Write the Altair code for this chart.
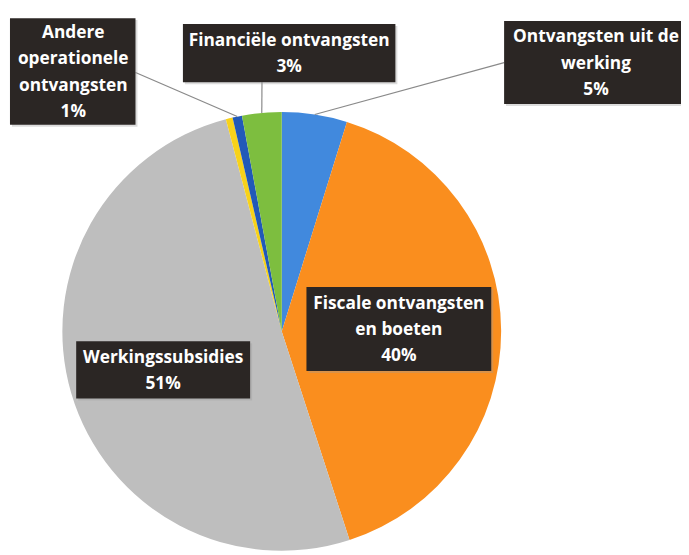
import altair as alt
import pandas as pd
import numpy as np

# ---- data ----
categories = [
    "Ontvangsten uit de werking",
    "Fiscale ontvangsten en boeten",
    "Werkingssubsidies",
    "Overige",
    "Andere operationele ontvangsten",
    "Financiële ontvangsten",
]
values = [4.8, 40.2, 50.9, 0.5, 0.7, 2.9]
pct_labels = ["5%", "40%", "51%", "", "1%", "3%"]
label_lines = [
    ["Ontvangsten uit de", "werking"],
    ["Fiscale ontvangsten", "en boeten"],
    ["Werkingssubsidies"],
    [],
    ["Andere", "operationele", "ontvangsten"],
    ["Financiële ontvangsten"],
]

# ---- styles / layout (kept apart from data) ----
colors = ["#4189DD", "#FA8E1E", "#BEBEBE", "#F7D21A", "#2159B8", "#7DBE3F"]
M = 8  # page margin
W, H = 681, 547
CX, CY, R = 285 - M, 332 - M, 222
# label boxes: (x0, y0, x1, y1, text_center_x, with_leader, anchor_x, anchor_y) in page px
boxes = {
    0: (510, 18, 694, 102, 603, True, 510, 60),
    1: (310, 287, 497, 372, 403.5, False, 0, 0),
    2: (77, 342, 253, 400, 165, False, 0, 0),
    4: (10, 15, 137, 123, 74, True, 137, 70),
    5: (185, 21, 400, 80, 292.5, True, 265, 80),
}
LINE_H = 26.5

pie_df = pd.DataFrame({"cat": categories, "value": values, "idx": range(len(values))})

box_rows, text_rows, lead_rows = [], [], []
total = float(sum(values))
cum = 0.0
for i, (c, v) in enumerate(zip(categories, values)):
    mid = (cum + v / 2) / total * 2 * np.pi
    cum += v
    if i not in boxes:
        continue
    x0, y0, x1, y1, tcx, lead, ax, ay = boxes[i]
    box_rows.append({"x": x0 - M, "x2": x1 - M, "y": y0 - M, "y2": y1 - M})
    lines = label_lines[i] + [pct_labels[i]]
    n = len(lines)
    yc = (y0 + y1) / 2 + 1
    for k, t in enumerate(lines):
        text_rows.append({"t": t, "x": tcx - M, "y": yc + (k - (n - 1) / 2) * LINE_H - M})
    if lead:
        px = CX + R * np.sin(mid)
        py = CY - R * np.cos(mid)
        lead_rows.append({"x": ax - M, "y": ay - M, "x2": px, "y2": py})

pie = alt.Chart(pie_df).mark_arc(outerRadius=R).encode(
    theta=alt.Theta("value:Q", stack=True),
    color=alt.Color("cat:N", scale=alt.Scale(domain=categories, range=colors), legend=None),
    order=alt.Order("idx:Q"),
    x=alt.value(CX),
    y=alt.value(CY),
)

leaders = alt.Chart(pd.DataFrame(lead_rows)).mark_rule(color="#8a8a8a", strokeWidth=1.2).encode(
    x=alt.X("x:Q", scale=None, axis=None), y=alt.Y("y:Q", scale=None, axis=None),
    x2="x2:Q", y2="y2:Q",
)

shadow = alt.Chart(pd.DataFrame(box_rows)).mark_rect(color="#9a9a9a", opacity=0.35).encode(
    x=alt.X("x:Q", scale=None, axis=None), x2="x2:Q",
    y=alt.Y("y:Q", scale=None, axis=None), y2="y2:Q",
).transform_calculate(x="datum.x+2", x2="datum.x2+2", y="datum.y+2", y2="datum.y2+2")

rects = alt.Chart(pd.DataFrame(box_rows)).mark_rect(color="#2b2624").encode(
    x=alt.X("x:Q", scale=None, axis=None), x2="x2:Q",
    y=alt.Y("y:Q", scale=None, axis=None), y2="y2:Q",
)

texts = alt.Chart(pd.DataFrame(text_rows)).mark_text(
    font="Open Sans", fontWeight="bold", fontSize=17.5, color="white",
    align="center", baseline="middle",
).encode(
    x=alt.X("x:Q", scale=None, axis=None), y=alt.Y("y:Q", scale=None, axis=None), text="t:N",
)

chart = alt.layer(pie, leaders, shadow, rects, texts).properties(
    width=W, height=H, padding=0, autosize=alt.AutoSizeParams(type="none"),
    background="white",
).configure_view(stroke=None)

chart.save("out.html", embed_options={"renderer": "svg", "actions": False})
